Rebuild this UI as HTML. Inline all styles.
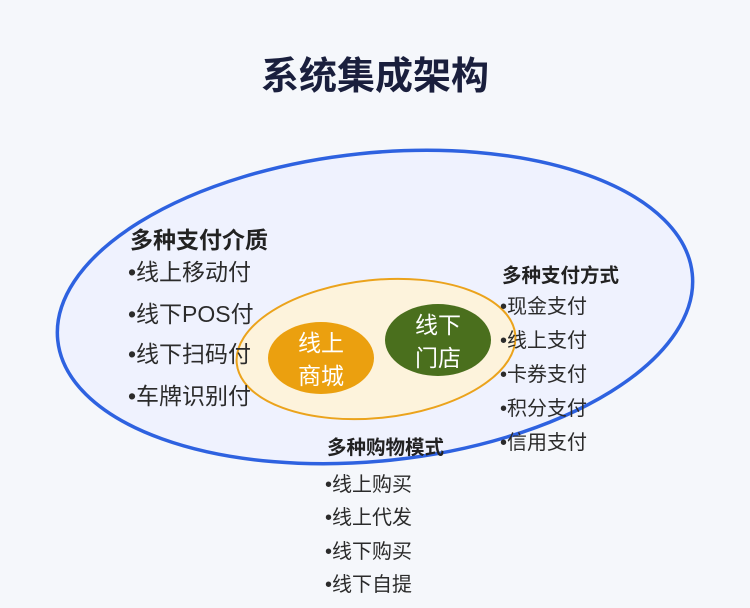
<!DOCTYPE html>
<html><head><meta charset="utf-8"><style>
body{margin:0;width:750px;height:608px;background:#f5f7fb;position:relative;overflow:hidden;font-family:"Liberation Sans","Noto Sans CJK SC",sans-serif;color:#2b2b2b}
.t{position:absolute;white-space:nowrap;line-height:1}
.h{font-weight:bold;color:#222}
</style></head><body>
<svg width="750" height="608" style="position:absolute;left:0;top:0">
<ellipse cx="375" cy="307" rx="319" ry="154" transform="rotate(-6 375 307)" fill="#eff2fe" stroke="#2e62e0" stroke-width="3.5"/>
<ellipse cx="376" cy="349" rx="140" ry="69" transform="rotate(-6 376 349)" fill="#fdf3dc" stroke="#eba31c" stroke-width="2"/>
<ellipse cx="321" cy="358" rx="53" ry="36" fill="#eba00f"/>
<ellipse cx="438" cy="340" rx="53" ry="36" fill="#4a6f1d"/>
<g font-size="23" fill="#fff" text-anchor="middle" font-family="Liberation Sans,Noto Sans CJK SC,sans-serif">
<text x="321" y="351">线上</text>
<text x="321" y="384">商城</text>
<text x="438" y="333">线下</text>
<text x="438" y="366">门店</text>
</g>
</svg>
<div class="t h" style="left:0;width:750px;text-align:center;top:58px;font-size:38px;color:#1a1f3d">系统集成架构</div>
<div class="t h" style="left:130px;top:229px;font-size:23px">多种支付介质</div>
<div class="t" style="left:128px;top:261px;font-size:23px">•线上移动付</div>
<div class="t" style="left:128px;top:303px;font-size:23px">•线下POS付</div>
<div class="t" style="left:128px;top:343px;font-size:23px">•线下扫码付</div>
<div class="t" style="left:128px;top:385px;font-size:23px">•车牌识别付</div>
<div class="t h" style="left:502px;top:267px;font-size:19.5px">多种支付方式</div>
<div class="t" style="left:500px;top:297px;font-size:20px">•现金支付</div>
<div class="t" style="left:500px;top:331px;font-size:20px">•线上支付</div>
<div class="t" style="left:500px;top:365px;font-size:20px">•卡券支付</div>
<div class="t" style="left:500px;top:399px;font-size:20px">•积分支付</div>
<div class="t" style="left:500px;top:433px;font-size:20px">•信用支付</div>
<div class="t h" style="left:327px;top:439px;font-size:19.5px">多种购物模式</div>
<div class="t" style="left:325px;top:475px;font-size:20px">•线上购买</div>
<div class="t" style="left:325px;top:508px;font-size:20px">•线上代发</div>
<div class="t" style="left:325px;top:542px;font-size:20px">•线下购买</div>
<div class="t" style="left:325px;top:575px;font-size:20px">•线下自提</div>
</body></html>
